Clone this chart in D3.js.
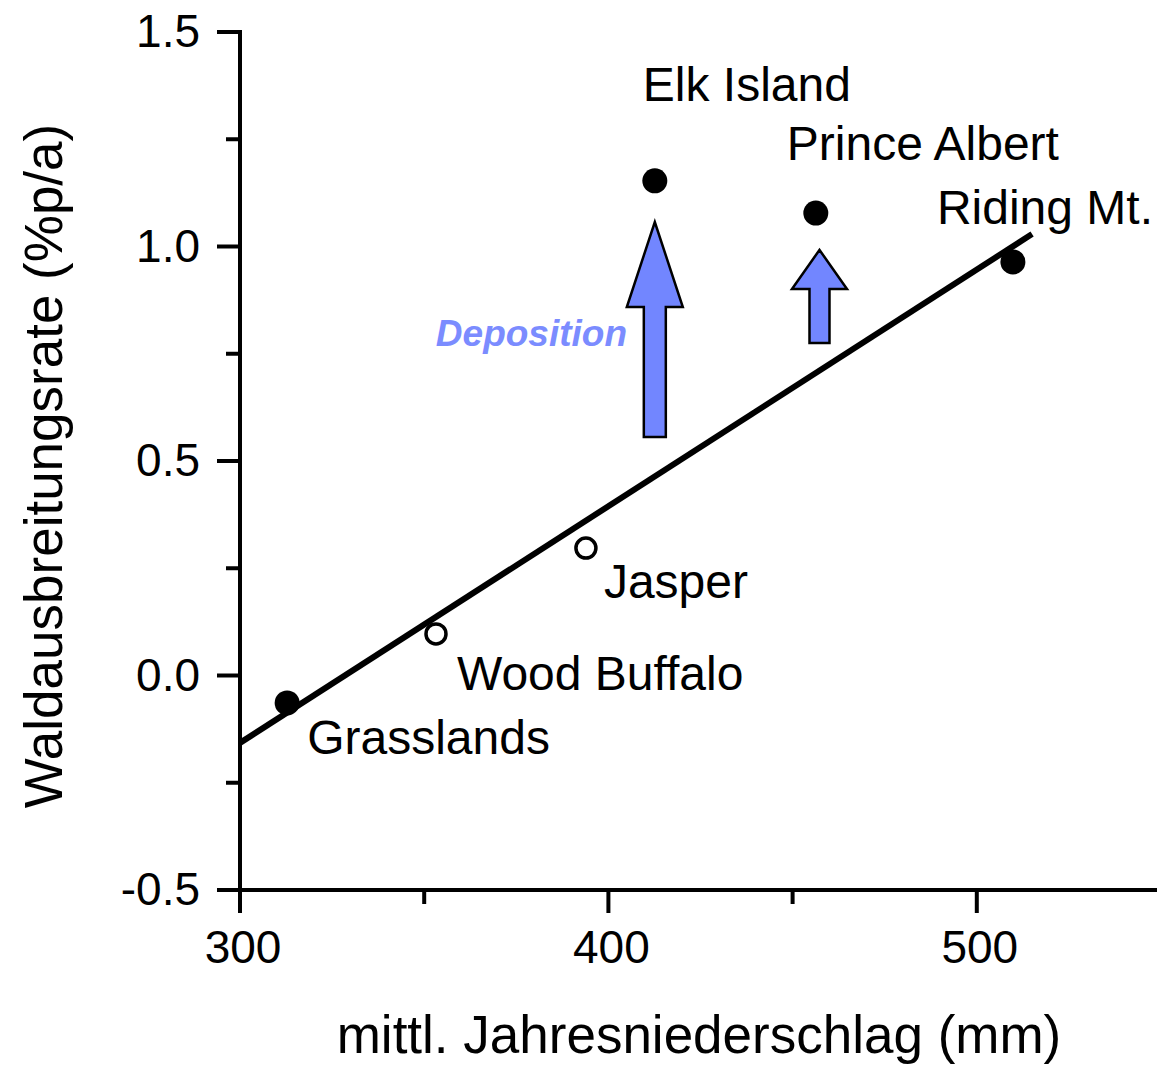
<!DOCTYPE html>
<html>
<head>
<meta charset="utf-8">
<script src="https://cdn.jsdelivr.net/npm/d3@7"></script>
<style>
  body { margin: 0; background: #fff; }
  svg { display: block; font-family: "Liberation Sans", Arial, sans-serif; }
</style>
</head>
<body>
<div id="chart"></div>
<script>
// Data
const sites = ["Grasslands", "Wood Buffalo", "Jasper", "Elk Island", "Prince Albert", "Riding Mt."];
const precip = [312.8, 353.2, 393.9, 412.6, 456.3, 509.8];
const rate = [-0.064, 0.097, 0.297, 1.153, 1.078, 0.964];
const filled = [true, false, false, true, true, true];

const fitX = [300, 515];
const fitY = [-0.157, 1.029];

// deposition arrows: x, y start, y tip
const arrowX = [412.6, 457.3];
const arrowFrom = [0.556, 0.775];
const arrowTo = [1.057, 0.992];

const xTicks = [300, 400, 500];
const xMinor = [350, 450];
const yTicks = [-0.5, 0.0, 0.5, 1.0, 1.5];
const yMinor = [-0.25, 0.25, 0.75, 1.25];

// label offsets (px) from each point
const labelDx = [20, 21, 18, -12, -29, -76];
const labelDy = [51, 56, 50, -80, -53, -38];

const W = 1157, H = 1069;
const svg = d3.select("#chart").append("svg").attr("width", W).attr("height", H);

const x = d3.scaleLinear().domain([300, 550]).range([240, 1161]);
const y = d3.scaleLinear().domain([-0.5, 1.5]).range([890, 32]);

const axisW = 4;

// x axis
svg.append("line")
    .attr("x1", x(300) - 2).attr("x2", W + 5)
    .attr("y1", y(-0.5)).attr("y2", y(-0.5))
    .attr("stroke", "#000").attr("stroke-width", axisW);
svg.selectAll(".xt").data(xTicks).enter().append("line")
    .attr("x1", d => x(d)).attr("x2", d => x(d))
    .attr("y1", y(-0.5)).attr("y2", y(-0.5) + 23)
    .attr("stroke", "#000").attr("stroke-width", axisW);
svg.selectAll(".xm").data(xMinor).enter().append("line")
    .attr("x1", d => x(d)).attr("x2", d => x(d))
    .attr("y1", y(-0.5)).attr("y2", y(-0.5) + 14)
    .attr("stroke", "#000").attr("stroke-width", axisW);
svg.selectAll(".xl").data(xTicks).enter().append("text")
    .attr("x", d => x(d) + 3).attr("y", 963)
    .attr("text-anchor", "middle")
    .style("font-size", "46px")
    .text(d => d);

// y axis
svg.append("line")
    .attr("x1", x(300)).attr("x2", x(300))
    .attr("y1", y(1.5) - 2).attr("y2", y(-0.5) + 2)
    .attr("stroke", "#000").attr("stroke-width", axisW);
svg.selectAll(".yt").data(yTicks).enter().append("line")
    .attr("x1", x(300) - 23).attr("x2", x(300))
    .attr("y1", d => y(d)).attr("y2", d => y(d))
    .attr("stroke", "#000").attr("stroke-width", axisW);
svg.selectAll(".ym").data(yMinor).enter().append("line")
    .attr("x1", x(300) - 14).attr("x2", x(300))
    .attr("y1", d => y(d)).attr("y2", d => y(d))
    .attr("stroke", "#000").attr("stroke-width", axisW);
svg.selectAll(".yl").data(yTicks).enter().append("text")
    .attr("x", 200).attr("y", d => y(d) + 15)
    .attr("text-anchor", "end")
    .style("font-size", "46px")
    .text(d => d.toFixed(1));

// axis titles
svg.append("text")
    .attr("x", 699).attr("y", 1053)
    .attr("text-anchor", "middle")
    .style("font-size", "53px")
    .text("mittl. Jahresniederschlag (mm)");
svg.append("text")
    .attr("transform", "translate(62,466) rotate(-90)")
    .attr("text-anchor", "middle")
    .style("font-size", "53px")
    .text("Waldausbreitungsrate (%p/a)");

// regression line
svg.append("line")
    .attr("x1", x(fitX[0])).attr("y1", y(fitY[0]))
    .attr("x2", x(fitX[1])).attr("y2", y(fitY[1]))
    .attr("stroke", "#000").attr("stroke-width", 6);

// arrows
const arrowFill = "#7286ff";
const arrowSize = [{ shaft: 22, head: 56, headH: 85 }, { shaft: 20, head: 55, headH: 39 }];
arrowX.forEach((ax, i) => {
    const cx = x(ax), y0 = y(arrowFrom[i]), y1 = y(arrowTo[i]);
    const s = arrowSize[i];
    const hb = y1 + s.headH;
    const pts = [
        [cx - s.shaft / 2, y0], [cx - s.shaft / 2, hb], [cx - s.head / 2, hb],
        [cx, y1], [cx + s.head / 2, hb], [cx + s.shaft / 2, hb], [cx + s.shaft / 2, y0]
    ];
    svg.append("polygon")
        .attr("points", pts.map(p => p.join(",")).join(" "))
        .attr("fill", arrowFill)
        .attr("stroke", "#000").attr("stroke-width", 2.5)
        .attr("stroke-linejoin", "miter");
});

svg.append("text")
    .attr("x", 627).attr("y", 346)
    .attr("text-anchor", "end")
    .style("font-size", "37px")
    .style("font-weight", "bold")
    .style("font-style", "italic")
    .style("fill", "#7b8cff")
    .text("Deposition");

// points
svg.selectAll(".pt").data(sites).enter().append("circle")
    .attr("cx", (d, i) => x(precip[i]))
    .attr("cy", (d, i) => y(rate[i]))
    .attr("r", (d, i) => filled[i] ? 12.5 : 10)
    .attr("fill", (d, i) => filled[i] ? "#000" : "#fff")
    .attr("stroke", "#000")
    .attr("stroke-width", (d, i) => filled[i] ? 0 : 3.5);

// point labels
svg.selectAll(".pl").data(sites).enter().append("text")
    .attr("x", (d, i) => x(precip[i]) + labelDx[i])
    .attr("y", (d, i) => y(rate[i]) + labelDy[i])
    .style("font-size", "48px")
    .text(d => d);
</script>
</body>
</html>
